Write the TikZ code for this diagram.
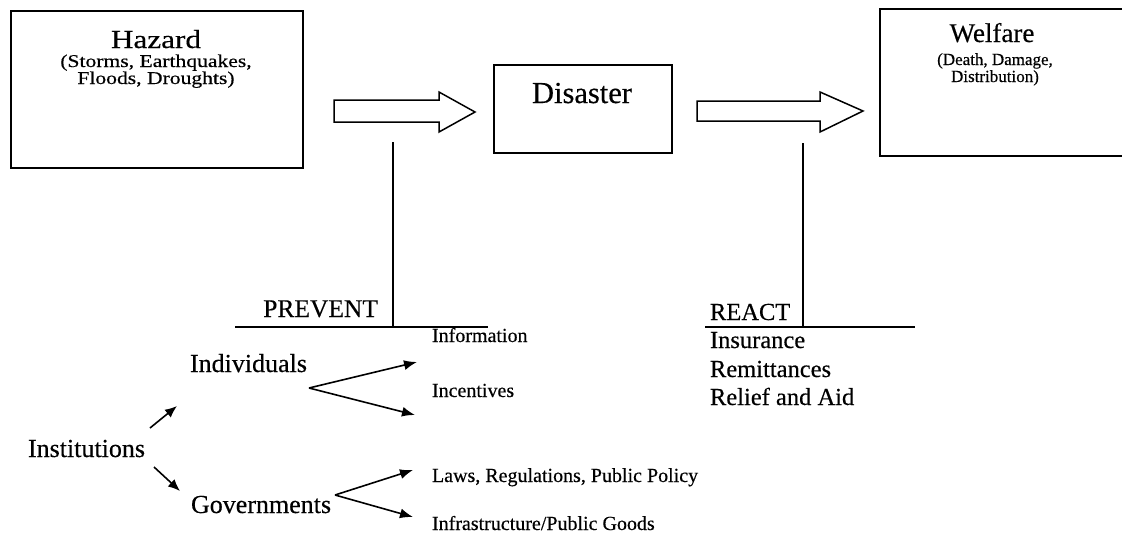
\documentclass[tikz,border=0pt]{standalone}
\usepackage{fontspec}
\setmainfont{Liberation Serif}[FakeBold=0.4]
\newfontfamily\widerm[FakeStretch=1.2,FakeBold=0.4]{Liberation Serif}
\usetikzlibrary{arrows.meta,calc}
\newcommand{\myfs}[1]{\fontsize{#1}{#1}\selectfont}
\begin{document}
\begin{tikzpicture}[x=1pt,y=-1pt,
  box/.style={draw, line width=1.5pt, inner sep=0pt, anchor=north west},
  txt/.style={inner sep=0pt, outer sep=0pt},
  blockarrow/.style={draw, line width=1.5pt, line join=miter},
  bar/.style={line width=1.5pt},
  thinarrow/.style={line width=1.6pt, -{Latex[length=13pt,width=10pt]}},
  shortarrow/.style={line width=1.6pt, -{Latex[length=12pt,width=10pt]}}]

\useasboundingbox (0,0) rectangle (1122,541);

% boxes
\node[box, minimum width=292pt, minimum height=157pt] (hazard) at (10,10) {};
\node[box, minimum width=178pt, minimum height=88pt] (disaster) at (493,64) {};
\node[box, minimum width=251pt, minimum height=147pt] (welfare) at (879,8) {};

% box texts
\node[txt, anchor=base, font=\widerm\myfs{26}] (hazardtitle) at (156,48) {Hazard};
\node[txt, anchor=base, font=\widerm\myfs{18}] (hazardsubA) at (156,67) {(Storms, Earthquakes,};
\node[txt, anchor=base, font=\widerm\myfs{18}] (hazardsubB) at (156,84) {Floods, Droughts)};

\node[txt, anchor=base, font=\myfs{30.5}] (disastertitle) at (582,103) {Disaster};

\node[txt, anchor=base, font=\myfs{27}] (welfaretitle) at (992,42) {Welfare};
\node[txt, anchor=base, font=\myfs{17}] (welfaresubA) at (995,65) {(Death, Damage,};
\node[txt, anchor=base, font=\myfs{17}] (welfaresubB) at (995,82) {Distribution)};

% block arrows
\coordinate (ba1s) at (334,111);
\coordinate (ba2s) at (697,111);
\draw[blockarrow] ($(ba1s)+(0,-11)$) -- ++(105,0) -- ++(0,-8) -- (475,112) -- (439,132) -- ++(0,-10) -- ($(ba1s)+(0,11)$) -- cycle;
\draw[blockarrow] ($(ba2s)+(0,-10)$) -- ++(123,0) -- ++(0,-9) -- (863,111) -- (820,132) -- ++(0,-11) -- ($(ba2s)+(0,10)$) -- cycle;

% prevent / react bars
\coordinate (pvtop) at (393,142);
\coordinate (pvbot) at (393,327);
\coordinate (pvleft) at (235,327);
\coordinate (pvright) at (488,327);
\draw[bar] (pvtop) -- (pvbot);
\draw[bar] (pvleft) -- (pvright);

\coordinate (rttop) at (803,143);
\coordinate (rtbot) at (803,327);
\coordinate (rtleft) at (705,327);
\coordinate (rtright) at (915,327);
\draw[bar] (rttop) -- (rtbot);
\draw[bar] (rtleft) -- (rtright);

\node[txt, anchor=base east, font=\myfs{25.5}] (prevent) at (378,317) {PREVENT};
\node[txt, anchor=base west, font=\myfs{24.5}] (react) at (710,320) {REACT};
\node[txt, anchor=base west, font=\myfs{24.5}] (insurance) at (710,348) {Insurance};
\node[txt, anchor=base west, font=\myfs{24.5}] (remit) at (710,377) {Remittances};
\node[txt, anchor=base west, font=\myfs{24.5}] (relief) at (710,405) {Relief and Aid};

% institutions tree
\node[txt, anchor=base west, font=\myfs{26}] (inst) at (28,457) {Institutions};
\node[txt, anchor=base west, font=\myfs{26}] (indiv) at (190,372) {Individuals};
\node[txt, anchor=base west, font=\myfs{26}] (gov) at (191,513) {Governments};

\node[txt, anchor=base west, font=\myfs{20}] (info) at (432,342) {Information};
\node[txt, anchor=base west, font=\myfs{20}] (incent) at (432,397) {Incentives};
\node[txt, anchor=base west, font=\myfs{20}] (laws) at (432,482) {Laws, Regulations, Public Policy};
\node[txt, anchor=base west, font=\myfs{20}] (infra) at (432,530) {Infrastructure/Public Goods};

\coordinate (instup) at (150,428);
\coordinate (instdn) at (154,467);
\coordinate (indivin) at (177,406);
\coordinate (govin) at (180,491);
\draw[shortarrow] (instup) -- (indivin);
\draw[shortarrow] (instdn) -- (govin);

\coordinate (indfork) at (309,388);
\coordinate (infotip) at (417,362);
\coordinate (incenttip) at (415,415);
\draw[thinarrow] (indfork) -- (infotip);
\draw[thinarrow] (indfork) -- (incenttip);

\coordinate (govfork) at (335,495);
\coordinate (lawstip) at (413,470);
\coordinate (infratip) at (413,517);
\draw[thinarrow] (govfork) -- (lawstip);
\draw[thinarrow] (govfork) -- (infratip);
\end{tikzpicture}
\end{document}
